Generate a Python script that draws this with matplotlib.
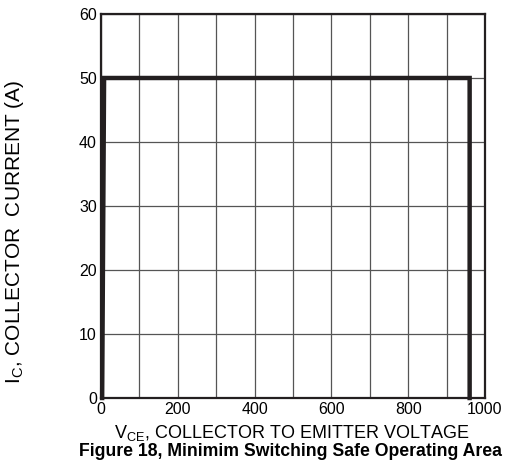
import matplotlib
matplotlib.use("Agg")
import matplotlib.pyplot as plt

plt.rcParams['font.family'] = ['Liberation Sans', 'DejaVu Sans']

# switching SOA boundary
vce = [3, 8, 960, 960]
ic = [0, 50, 50, 0]

x_ticks = [0, 200, 400, 600, 800, 1000]
y_ticks = [0, 10, 20, 30, 40, 50, 60]

fig = plt.figure(figsize=(5.08, 4.68), dpi=100)
ax = fig.add_axes([101 / 508, 1 - 398 / 468, 384 / 508, 384 / 468])

ax.plot(vce, ic, color='#231f20', linewidth=3.2, solid_joinstyle='miter', clip_on=False, zorder=3)

ax.set_xlim(0, 1000)
ax.set_ylim(0, 60)
ax.set_xticks(range(0, 1001, 100), minor=False)
ax.set_xticklabels([str(v) if v in x_ticks else '' for v in range(0, 1001, 100)])
ax.set_yticks(y_ticks)
ax.set_yticklabels([str(v) for v in y_ticks])
ax.tick_params(length=0, labelsize=11.5, colors='black', pad=3)
ax.grid(True, color='#555555', linewidth=0.9)
for s in ax.spines.values():
    s.set_linewidth(1.6)
    s.set_color('#231f20')

fig.text(292 / 508, 1 - 433 / 468, 'V$_{\\mathregular{CE}}$, COLLECTOR TO EMITTER VOLTAGE',
         fontsize=13, ha='center', va='center')
fig.text(15 / 508, 1 - 232 / 468, 'I$_{\\mathregular{C}}$, COLLECTOR  CURRENT (A)',
         fontsize=15, ha='center', va='center', rotation=90)

fig.text(79 / 508, 1 - 452 / 468, 'Figure 18, Minimim Switching Safe Operating Area',
         fontsize=12.7, fontweight='bold', va='center', ha='left')

fig.savefig('out.png', dpi=100)
